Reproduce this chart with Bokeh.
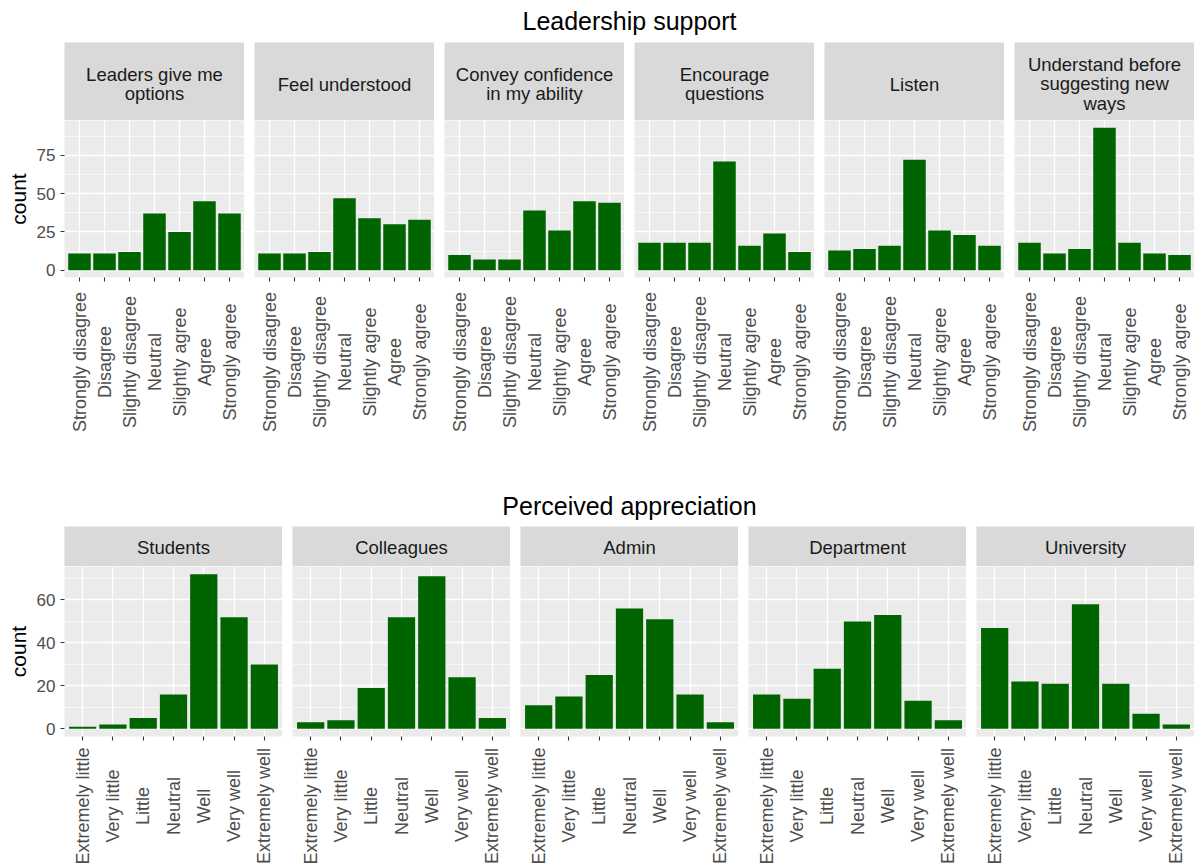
import math
from bokeh.plotting import figure
from bokeh.layouts import row, column
from bokeh.models import FactorRange, Range1d, FixedTicker, CustomLabelingPolicy
from bokeh.core.properties import value
from bokeh.embed import file_html
from bokeh.resources import INLINE

# ---------------- data ----------------
agree_levels = ["Strongly disagree", "Disagree", "Slightly disagree", "Neutral",
                "Slightly agree", "Agree", "Strongly agree"]
leadership_panels = ["Leaders give me\noptions", "Feel understood",
                     "Convey confidence\nin my ability", "Encourage\nquestions",
                     "Listen", "Understand before\nsuggesting new\nways"]
leaders_give_options = [11, 11, 12, 37, 25, 45, 37]
feel_understood = [11, 11, 12, 47, 34, 30, 33]
convey_confidence = [10, 7, 7, 39, 26, 45, 44]
encourage_questions = [18, 18, 18, 71, 16, 24, 12]
listen = [13, 14, 16, 72, 26, 23, 16]
understand_before = [18, 11, 14, 93, 18, 11, 10]
leadership_values = [leaders_give_options, feel_understood, convey_confidence,
                     encourage_questions, listen, understand_before]
leadership_yticks = [0, 25, 50, 75]

apprec_levels = ["Extremely little", "Very little", "Little", "Neutral",
                 "Well", "Very well", "Extremely well"]
apprec_panels = ["Students", "Colleagues", "Admin", "Department", "University"]
students = [1, 2, 5, 16, 72, 52, 30]
colleagues = [3, 4, 19, 52, 71, 24, 5]
admin = [11, 15, 25, 56, 51, 16, 3]
department = [16, 14, 28, 50, 53, 13, 4]
university = [47, 22, 21, 58, 21, 7, 2]
apprec_values = [students, colleagues, admin, department, university]
apprec_yticks = [0, 20, 40, 60]

titles = ["Leadership support", "Perceived appreciation"]

# ---------------- style ----------------
FONT = "Liberation Sans"
BAR = "#006400"
PANEL_BG = "#EBEBEB"
STRIP_BG = "#D9D9D9"
LEFT = 64
GAP = 10
TOTAL_W = 1194
BOTTOM_BORDER = 5   # room under each panel for the x tick marks

# hide the axis' own tick labels (they are drawn centred in the label strip below)
HIDE_LABELS = """
for (let i = 0; i < indices.size; i++) { indices.unset(i) }
return indices
"""


def blank_fig(width, height, left, yr=None, xr=None, bg="white"):
    p = figure(width=width, height=height,
               x_range=xr if xr is not None else Range1d(0, 1),
               y_range=yr if yr is not None else Range1d(0, 1),
               output_backend="svg", toolbar_location=None,
               x_axis_location=None, y_axis_location=None,
               min_border_left=left, min_border_right=0,
               min_border_top=0, min_border_bottom=0)
    p.outline_line_color = None
    p.grid.visible = False
    p.background_fill_color = bg
    p.border_fill_color = "white"
    return p


def title_fig(text, height, center_from_top):
    p = blank_fig(TOTAL_W, height, LEFT,
                  yr=Range1d(-(height - center_from_top), center_from_top))
    p.text(x=[0.5], y=[0], text=[text], text_align="center", text_baseline="middle",
           text_font=value(FONT), text_font_size="25px", text_color="black")
    return p


def strip_fig(text, left, fw, height, shift):
    # pixel-scaled y range; text centre sits `shift` px below the strip's middle
    p = blank_fig(left + fw, height, left, bg=STRIP_BG,
                  yr=Range1d(-height / 2 + shift, height / 2 + shift))
    p.text(x=[0.5], y=[0], text=[text], text_align="center", text_baseline="middle",
           text_font=value(FONT), text_font_size="18.5px", text_color="#1A1A1A",
           text_line_height=0.92)
    return p


def panel_fig(left, fw, fh, levels, vals, xr, yr, ticks, show_y):
    p = figure(width=left + fw, height=fh + BOTTOM_BORDER, x_range=xr, y_range=yr,
               output_backend="svg", toolbar_location=None,
               min_border_left=left, min_border_right=0,
               min_border_top=0, min_border_bottom=BOTTOM_BORDER)
    p.vbar(x=levels, top=vals, bottom=0, width=0.9, fill_color=BAR, line_color=None)
    p.background_fill_color = PANEL_BG
    p.border_fill_color = "white"
    p.outline_line_color = None
    step = ticks[1] - ticks[0]
    minor = [t + step / 2 for t in ticks]
    ticker = FixedTicker(ticks=ticks, minor_ticks=minor)
    ax = p.xaxis[0]
    ax.axis_line_color = None
    ax.major_tick_line_color = "#333333"
    ax.major_tick_line_width = 1.1
    ax.major_tick_out = 4
    ax.major_tick_in = 0
    ax.major_label_standoff = 0
    ax.major_label_text_font_size = "0px"
    ax.major_label_policy = CustomLabelingPolicy(code=HIDE_LABELS)
    p.ygrid.ticker = ticker
    p.xgrid.grid_line_color = "white"
    p.xgrid.grid_line_width = 1.3
    p.ygrid.grid_line_color = "white"
    p.ygrid.grid_line_width = 1.3
    p.ygrid.minor_grid_line_color = "white"
    p.ygrid.minor_grid_line_width = 0.6
    ay = p.yaxis[0]
    if show_y:
        ay.ticker = ticker
        ay.axis_line_color = None
        ay.major_tick_line_color = "#333333"
        ay.major_tick_line_width = 1.1
        ay.major_tick_out = 4
        ay.major_tick_in = 0
        ay.minor_tick_out = 0
        ay.minor_tick_in = 0
        ay.major_label_text_font = FONT
        ay.major_label_text_font_size = "17px"
        ay.major_label_text_color = "#4D4D4D"
        ay.major_label_standoff = 5
        ay.axis_label = "count"
        ay.axis_label_text_font = FONT
        ay.axis_label_text_font_size = "21px"
        ay.axis_label_text_font_style = "normal"
        ay.axis_label_text_color = "black"
        ay.axis_label_standoff = 4
    else:
        ay.visible = False
    return p


def label_fig(left, fw, height, center_from_top, levels, xr):
    p = blank_fig(left + fw, height, left,
                  yr=Range1d(-(height - center_from_top), center_from_top), xr=xr)
    p.text(x=levels, y=[0] * len(levels), text=levels, angle=math.pi / 2,
           text_align="center", text_baseline="middle",
           text_font=value(FONT), text_font_size="18px", text_color="#4D4D4D")
    return p


def facet_row(panels, values, levels, fw, strip_h, strip_shift, fh, lab_h, lab_c, yticks):
    ymax = max(max(v) for v in values)
    yr = Range1d(-0.05 * ymax, 1.05 * ymax)
    cols = []
    for i, (name, vals) in enumerate(zip(panels, values)):
        left = LEFT if i == 0 else GAP
        xr = FactorRange(*levels, range_padding=0.1, range_padding_units="absolute")
        s = strip_fig(name, left, fw, strip_h, strip_shift)
        p = panel_fig(left, fw, fh, levels, vals, xr, yr, yticks, i == 0)
        lab = label_fig(left, fw, lab_h - BOTTOM_BORDER, lab_c - BOTTOM_BORDER, levels, xr)
        cols.append(column(s, p, lab, spacing=0))
    return row(*cols, spacing=0)


top_row = facet_row(leadership_panels, leadership_values, agree_levels,
                    180, 78, 2.5, 157, 207, 84.5, leadership_yticks)
bottom_row = facet_row(apprec_panels, apprec_values, apprec_levels,
                       218, 40, 0.5, 170, 130, 69.5, apprec_yticks)

layout = column(title_fig(titles[0], 42, 20), top_row,
                title_fig(titles[1], 42, 21), bottom_row, spacing=0)

open("out.html", "w").write(file_html(layout, INLINE))
